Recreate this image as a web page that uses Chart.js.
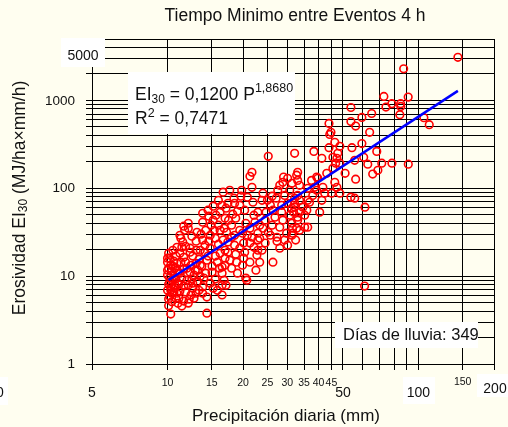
<!DOCTYPE html>
<html lang="es">
<head>
<meta charset="UTF-8">
<title>Erosividad EI30 vs precipitación diaria</title>
<script src="https://cdn.jsdelivr.net/npm/chart.js"></script>
<style>
  body { margin: 0; background: #fffef0; }
  canvas { display: block; }
</style>
</head>
<body>
<canvas id="erosChart" width="508" height="427"></canvas>
<script>
  // Daily rain events: [precipitation (mm), EI30 (MJ/ha x mm/h)]
  const events = [
    [10.1,18.2],[10.2,16.0],[10.0,14.4],[10.3,13.3],[10.1,12.3],[10.4,11.4],[10.0,10.3],[10.2,9.5],[10.5,8.8],[10.1,8.1],
    [10.3,7.5],[10.0,6.9],[10.4,6.4],[10.2,5.9],[10.1,5.5],[10.4,5.1],[10.1,4.6],[10.3,3.7],[10.8,16.9],[10.9,14.0],
    [10.7,12.3],[11.0,10.8],[10.8,9.25],[11.0,8.3],[10.7,7.3],[10.9,6.4],[10.8,5.6],[11.0,4.9],[10.6,14.8],[10.6,10.0],
    [10.5,19.7],[10.9,21.3],[10.7,7.9],[10.3,6.9],[10.0,11.7],[10.5,13.0],[10.2,8.6],[10.9,11.7],[10.6,6.6],[10.0,16.0],

    [11.2,29.2],[11.3,27.0],[11.7,33.3],[12.1,40.0],[11.5,24.4],[11.8,21.9],[12.3,20.8],[11.2,18.2],[11.6,16.4],[12.3,18.7],
    [12.6,16.9],[13.0,19.7],[13.5,19.7],[11.3,14.4],[11.8,14.4],[12.4,13.3],[13.0,14.0],[13.35,15.6],[11.2,10.8],[11.6,12.0],
    [12.3,11.1],[12.75,10.3],[13.2,11.7],[11.4,9.5],[11.95,9.0],[12.5,9.25],[13.1,8.6],[11.1,8.1],[11.6,7.7],[12.1,7.9],
    [12.6,7.3],[13.2,8.6],[11.2,6.75],[11.8,6.6],[12.4,6.1],[13.0,6.4],[13.35,6.9],[11.1,5.6],[11.6,5.2],[12.2,5.47],
    [12.75,5.6],[11.4,4.56],[12.1,4.93],[13.0,25.0],[12.5,28.5],[13.1,31.6],[12.1,35.1],[11.6,37.0],[11.4,21.3],[12.9,11.7],
    [11.95,12.3],[13.5,10.0],[12.6,8.3],[13.5,13.3],

    [13.8,52.0],[14.6,48.1],[13.8,41.1],[15.2,43.3],[15.95,38.0],[14.2,33.3],[14.8,29.2],[16.2,33.3],[13.8,25.7],[15.5,27.0],
    [16.65,25.7],[14.8,20.8],[16.2,18.2],[14.1,18.7],[15.5,16.9],[16.95,19.7],[14.35,15.2],[15.8,14.4],[16.95,16.0],[13.7,13.0],
    [15.05,13.0],[16.5,12.7],[14.2,10.8],[15.05,11.1],[16.5,10.8],[13.95,9.5],[15.5,9.25],[16.8,9.0],[14.8,8.3],[16.5,7.9],
    [13.8,7.5],[15.2,7.3],[13.8,6.4],[14.35,5.77],[16.5,6.1],[15.8,6.9],[14.35,3.79],[16.65,90.2],[15.95,73.0],[16.5,64.0],
    [16.2,53.4],[15.2,62.5],[14.5,56.3],[16.95,45.7],[15.6,49.4],[16.8,35.1],[14.9,38.0],[14.1,22.5],[15.95,23.1],[14.6,25.0],
    [15.35,33.3],[13.6,30.0],[16.1,12.3],[14.5,16.9],[16.95,13.3],

    [17.4,67.5],[17.7,95],[18.5,67.5],[19.75,95],[19.6,81.4],[20.3,56.3],[18.7,45.7],[18.0,38.0],[19.4,33.3],[18.5,29.2],
    [20.8,29.2],[21.3,35.1],[21.7,102.6],[21.7,152],[21.3,137],[21.9,69.3],[22.3,41.1],[22.9,53.4],[22.9,30.8],[23.8,73.0],
    [17.4,24.4],[18.5,22.5],[19.4,20.8],[21.7,27.7],[22.9,25.7],[22.9,19.7],[22.7,17.3],[21.3,14.4],[19.9,13.3],[19.0,10.8],
    [20.5,9.5],[18.0,12.3],[17.7,15.2],[17.1,7.9],[20.7,9.0],[20.1,16.0],[18.7,17.8],[17.4,18.7],[18.0,27.7],[20.1,23.8],
    [22.1,21.3],[23.3,14.4],[22.5,11.7],[17.2,31.6],[19.0,54.8],[20.5,40.0],[18.2,50.7],[20.8,79.3],[17.1,59.3],[22.1,49.4],
    [19.4,64.0],[23.3,38.0],[17.5,43.3],[20.3,18.7],[18.85,14.4],[21.3,23.8],[23.3,27.0],[19.9,30.8],[18.4,77.2],

    [25.2,231],[24.0,87.9],[25.7,64.0],[27.1,77.2],[29.0,134],[28.8,117],[31.3,114],[32.7,141],[32.1,250],[30.1,67.5],
    [32.1,60.9],[28.5,53.4],[26.8,46.9],[24.5,43.3],[24.0,35.1],[26.1,38.0],[28.0,36.1],[31.3,40.0],[32.7,35.1],[27.3,27.7],
    [29.8,30.8],[31.5,30.8],[27.3,25.0],[28.0,20.8],[26.3,14.4],[31.3,29.2],[24.5,23.8],[25.7,29.2],[29.3,25.7],[33.0,43.3],
    [33.6,53.4],[30.7,49.4],[29.3,83],[27.5,95],[26.3,56.3],[24.7,53.4],[30.7,95],[33.0,83],[33.6,108],[32.1,77.2],
    [25.2,31.6],[28.8,43.3],[23.8,19.7],[30.1,22.5],[32.4,25.7],[33.6,73.0],[30.1,130],[26.1,81.4],[28.5,64.0],[31.8,53.4],
    [25.0,73.0],[33.6,33.3],[28.0,108],[33.0,123],

    [38.3,263],[41.2,219],[44.0,547],[44.8,433],[44.0,290],[46.4,333],[48.6,300],[47.7,250],[47.3,219],[46.8,193],
    [48.6,193],[53.8,830],[53.8,575],[56.2,510],[59.5,640],[65.1,710],[63.9,433],[54.3,290],[59.5,323],[68.2,263],
    [60.5,225],[55.7,208],[62.8,188],[71.4,193],[78.4,193],[91.1,188],[68.9,160],[65.7,145],[56.2,127],[51.0,148],
    [45.6,169],[43.1,148],[39.3,134],[41.6,102.6],[46.4,117],[47.3,102.6],[45.1,87.9],[48.6,87.9],[53.8,79.3],[55.7,77.2],
    [61.2,60.9],[38.6,102.6],[42.3,87.9],[37.9,83],[33.0,152],[36.2,73.0],[41.2,73.0],[35.9,56.3],[32.1,67.5],[31.3,59.3],
    [35.2,49.4],[40.4,53.4],[34.6,60.9],[36.8,69.3],[33.0,46.9],[35.2,36.1],[31.5,35.1],[36.2,36.1],[37.5,123],[39.7,130],
    [36.2,100],[39.3,95],[45.6,225],[44.3,410],

    [143.6,3090],[87.3,2290],[72.8,1110],[91.0,1090],[74.2,839],[78.3,918],[84.9,918],[85.0,855],[84.3,688],[105.1,636],
    [110.4,529],[61.0,7.7]
  ];

  // Power fit EI30 = a * P^b, drawn over the observed rain range
  const fitA = 0.1200;
  const fitB = 1.8680;
  const fitR2 = 0.7471;
  const fitRange = [10.1, 143.6];
  const rainDays = 349;

  // Grid positions and tick labels
  const xGrid = [5, 10, 15, 20, 25, 30, 35, 40, 45, 50, 60, 70, 80, 90, 100, 150, 200];
  const yGrid = [1, 2, 3, 4, 5, 6, 7, 8, 9, 10, 20, 30, 40, 50, 60, 70, 80, 90,
                 100, 200, 300, 400, 500, 600, 700, 800, 900, 1000, 2000, 3000, 4000, 5000];
  const xLabelsBig = [5, 50, 100, 200];
  const xLabelsSmall = [10, 15, 20, 25, 30, 35, 40, 45, 150];
  const yLabels = [1, 10, 100, 1000, 5000];

  const FONT = '"Liberation Sans", Arial, sans-serif';
  const INK = '#111';

  const fmt = n => n.toFixed(4).replace('.', ',');

  // draws a run of text pieces, each with its own size and baseline shift
  function richText(ctx, parts, x, y) {
    let cx = x;
    parts.forEach(p => {
      ctx.font = p.size + 'px ' + FONT;
      ctx.fillText(p.t, cx, y + (p.dy || 0));
      cx += ctx.measureText(p.t).width;
    });
    return cx - x;
  }
  function richWidth(ctx, parts) {
    let w = 0;
    parts.forEach(p => { ctx.font = p.size + 'px ' + FONT; w += ctx.measureText(p.t).width; });
    return w;
  }

  const paper = {
    id: 'paper',
    beforeDraw(chart) {
      const ctx = chart.ctx;
      ctx.save();
      ctx.fillStyle = '#fffef0';
      ctx.fillRect(0, 0, chart.width, chart.height);
      ctx.restore();
    },
    afterDraw(chart) {
      const ctx = chart.ctx;
      const xs = chart.scales.x, ys = chart.scales.y;
      ctx.save();
      ctx.fillStyle = INK;
      ctx.textBaseline = 'alphabetic';

      // title
      ctx.textAlign = 'center';
      ctx.font = '17.5px ' + FONT;
      ctx.fillText('Tiempo Minimo entre Eventos 4 h', 295, 20.5);

      // x title
      ctx.font = '17px ' + FONT;
      ctx.fillText('Precipitación diaria (mm)', 286, 420.5);

      // y tick labels
      ctx.font = '13.5px ' + FONT;
      ctx.textAlign = 'right';
      ctx.textBaseline = 'middle';
      yLabels.forEach(v => {
        if (v === 5000) return;
        ctx.fillText(String(v), 75, ys.getPixelForValue(v) + 0.5);
      });
      // 5000 sits in its own white box
      ctx.fillStyle = '#fff';
      ctx.fillRect(61, 38, 44, 29);
      ctx.fillStyle = INK;
      ctx.textAlign = 'center';
      ctx.textBaseline = 'alphabetic';
      ctx.font = '14px ' + FONT;
      ctx.fillText('5000', 83, 59.5);

      // x tick labels
      ctx.fillStyle = '#fff';
      ctx.fillRect(403, 377, 32, 27);
      ctx.fillRect(477, 374, 31, 23);
      ctx.fillRect(0, 377, 8, 28);
      ctx.fillStyle = INK;
      ctx.font = '14px ' + FONT;
      xLabelsBig.forEach(v => {
        const base = v === 200 ? 393 : 396.5;
        ctx.fillText(String(v), xs.getPixelForValue(v) + (v === 200 ? 1 : 0), base);
      });
      ctx.fillText('0', 0, 396.5);
      ctx.font = '10.5px ' + FONT;
      xLabelsSmall.forEach(v => {
        ctx.fillText(String(v), xs.getPixelForValue(v), v === 150 ? 385 : 386);
      });

      // y title, rotated
      ctx.save();
      ctx.translate(20, 198);
      ctx.rotate(-Math.PI / 2);
      const yParts = [
        { t: 'Erosividad EI', size: 17.5 },
        { t: '30', size: 12, dy: 4 },
        { t: ' (MJ/ha×mm/h)', size: 17.5 }
      ];
      ctx.textAlign = 'left';
      const yw = richWidth(ctx, yParts);
      ctx.textBaseline = 'middle';
      richText(ctx, yParts, -yw / 2, 0);
      ctx.restore();

      // equation box
      ctx.fillStyle = '#fff';
      ctx.fillRect(128, 72, 167, 62);
      ctx.fillStyle = INK;
      ctx.textAlign = 'left';
      ctx.textBaseline = 'alphabetic';
      richText(ctx, [
        { t: 'EI', size: 17.5 },
        { t: '30', size: 12, dy: 3.5 },
        { t: ' = ' + fmt(fitA) + ' P', size: 17.5 },
        { t: fmt(fitB), size: 12.5, dy: -7.5 }
      ], 135, 99.5);
      richText(ctx, [
        { t: 'R', size: 17.5 },
        { t: '2', size: 12.5, dy: -7.5 },
        { t: ' = ' + fmt(fitR2), size: 17.5 }
      ], 135, 124);

      // rain days box
      ctx.fillStyle = '#fff';
      ctx.fillRect(335, 322, 143, 26);
      ctx.fillStyle = INK;
      ctx.font = '16.5px ' + FONT;
      ctx.fillText('Días de lluvia: ' + rainDays, 343, 339.5);

      ctx.restore();
    }
  };

  const gridOpts = { color: '#000', lineWidth: 1, tickLength: 6, drawTicks: true };

  new Chart(document.getElementById('erosChart'), {
    type: 'scatter',
    data: {
      datasets: [
        {
          type: 'line',
          label: 'Ajuste',
          data: fitRange.map(p => ({ x: p, y: fitA * Math.pow(p, fitB) })),
          borderColor: '#0000ff',
          borderWidth: 2.5,
          pointRadius: 0,
          fill: false
        },
        {
          label: 'Eventos',
          data: events.map(e => ({ x: e[0], y: e[1] })),
          pointStyle: 'circle',
          pointRadius: 3.8,
          pointBorderWidth: 1.6,
          borderColor: '#ff0000',
          backgroundColor: 'rgba(0,0,0,0)'
        }
      ]
    },
    options: {
      responsive: false,
      animation: false,
      events: [],
      layout: { padding: { left: 86, right: 14, top: 39, bottom: 57 } },
      plugins: {
        legend: { display: false },
        title: { display: false },
        tooltip: { enabled: false }
      },
      scales: {
        x: {
          type: 'logarithmic',
          min: 5,
          max: 200,
          afterBuildTicks: s => { s.ticks = xGrid.map(v => ({ value: v })); },
          ticks: { display: false },
          grid: gridOpts,
          border: { color: '#000', width: 1 }
        },
        y: {
          type: 'logarithmic',
          min: 1,
          max: 5000,
          afterBuildTicks: s => { s.ticks = yGrid.map(v => ({ value: v })); },
          ticks: { display: false },
          grid: gridOpts,
          border: { color: '#000', width: 1 }
        }
      }
    },
    plugins: [paper]
  });
</script>
</body>
</html>
